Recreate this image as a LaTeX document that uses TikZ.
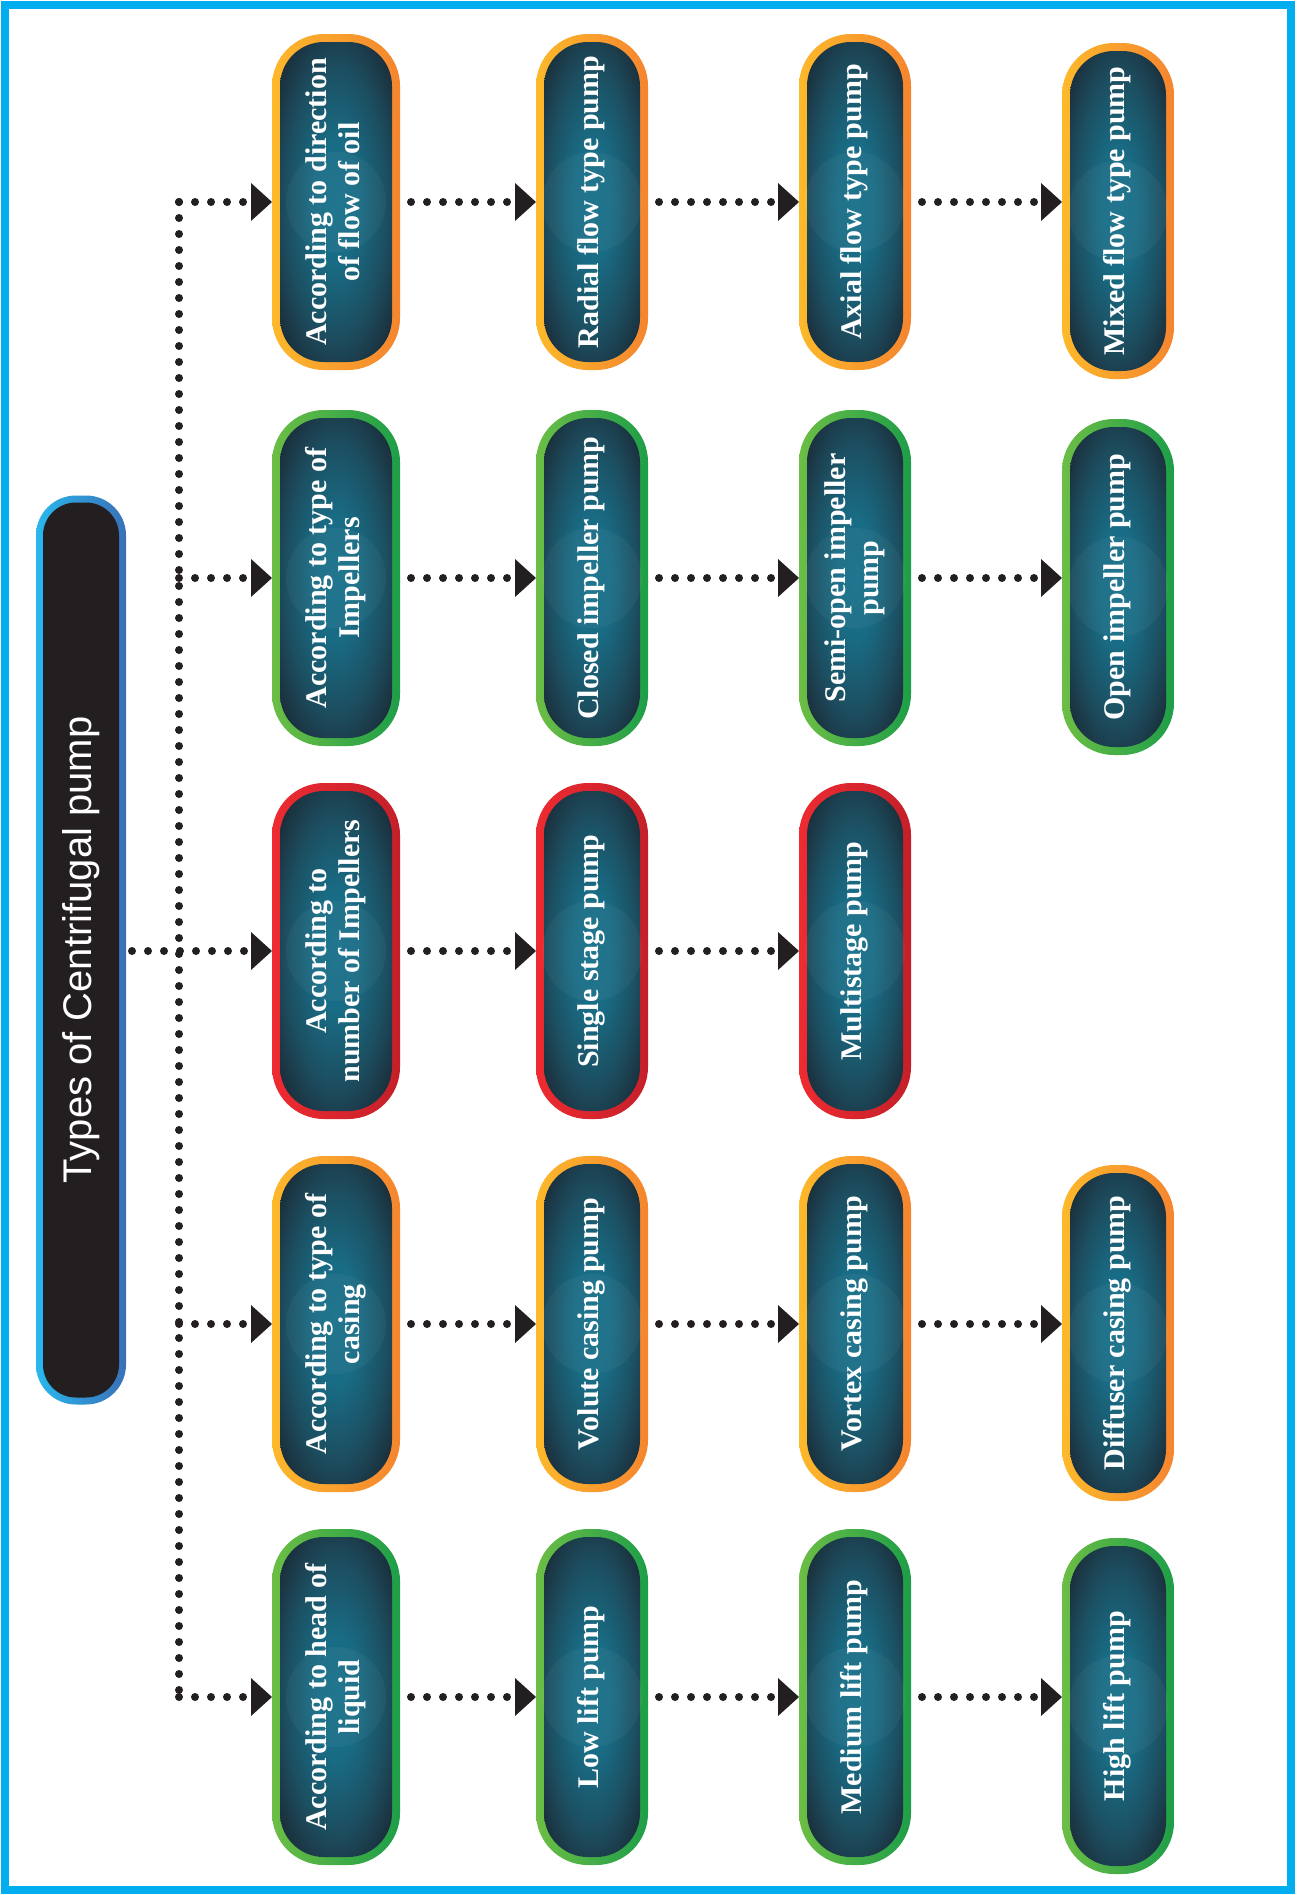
\documentclass[tikz,border=0pt]{standalone}
\usepackage{fontspec}
\setmainfont{Liberation Serif}
\newfontfamily\titlefont{Liberation Sans}
\usepackage{graphicx}
\usepackage{xcolor}
\usepackage{tikz}
\usetikzlibrary{arrows.meta}

\definecolor{frameCyan}{HTML}{00AEEF}
\definecolor{orgL}{HTML}{FDB92B}
\definecolor{orgR}{HTML}{F5852F}
\definecolor{grnL}{HTML}{6CBE45}
\definecolor{grnR}{HTML}{1E9E48}
\definecolor{redL}{HTML}{EE2B31}
\definecolor{redR}{HTML}{C4202A}
\definecolor{ttlL}{HTML}{29B8EE}
\definecolor{ttlR}{HTML}{3A70B7}
\definecolor{coreDark}{HTML}{1B2A36}
\definecolor{coreMid}{HTML}{1C4E60}
\definecolor{coreTeal}{HTML}{18718B}
\definecolor{ink}{HTML}{231F20}

% teal glow in the middle of each pill
\pgfdeclareradialshading{pillglow}{\pgfpoint{0bp}{0bp}}{%
    color(0bp)=(coreTeal); color(9bp)=(coreTeal!85!coreMid);
    color(20bp)=(coreMid); color(30bp)=(coreDark); color(50bp)=(coreDark)}

\newcommand{\vlabel}[1]{\rotatebox{90}{\begin{tabular}{@{}c@{}}#1\end{tabular}}}

\begin{document}
\begin{tikzpicture}[x=1pt, y=-1pt,
    pill/.style={rounded corners=52pt, inner sep=0pt, outer sep=0pt,
        minimum width=112pt, minimum height=336pt, text=white,
        font=\bfseries\fontsize{30}{33}\selectfont,
        path picture={\shade[shading=pillglow, rounded corners=44pt]
            ([shift={(8,8)}]path picture bounding box.north west) rectangle
            ([shift={(-8,-8)}]path picture bounding box.south east);
            \fill[white, opacity=0.04] (path picture bounding box.center) circle (50pt);}},
    wide/.style={minimum width=128pt},
    orangepill/.style={pill, left color=orgL, right color=orgR},
    greenpill/.style={pill, left color=grnL, right color=grnR},
    redpill/.style={pill, left color=redL, right color=redR},
    titlepill/.style={rounded corners=40pt, inner sep=0pt, outer sep=0pt,
        minimum width=90pt, minimum height=909pt, text=white,
        left color=ttlL, right color=ttlR,
        font=\titlefont\fontsize{40}{44}\selectfont,
        path picture={\fill[ink, rounded corners=33pt]
            ([shift={(7,7)}]path picture bounding box.north west) rectangle
            ([shift={(-7,-7)}]path picture bounding box.south east);}},
    dots/.style={draw=ink, line width=8pt, line cap=round, dash pattern=on 0pt off 16pt},
    link/.style={dots, -{Triangle[length=21pt, width=38pt, line width=0pt]}},
]

% page and frame
\fill[white] (0,0) rectangle (1296,1895);
\useasboundingbox (0,0) rectangle (1296,1895);
\draw[frameCyan, line width=8pt] (5,5) rectangle (1291,1890);

% Root
\node[titlepill] (title) at (81,950) {\rotatebox{90}{Types of Centrifugal pump}};

% Level 1 - classification
\node[orangepill, wide] (a1) at (336,202) {\vlabel{According to direction\\of flow of oil}};
\node[greenpill, wide] (b1) at (336,578) {\vlabel{According to type of\\Impellers}};
\node[redpill, wide] (c1) at (336,951) {\vlabel{According to\\number of Impellers}};
\node[orangepill, wide] (d1) at (336,1324) {\vlabel{According to type of\\casing}};
\node[greenpill, wide] (e1) at (336,1697) {\vlabel{According to head of\\liquid}};

% Level 2
\node[orangepill] (a2) at (592,202) {\vlabel{Radial flow type pump}};
\node[greenpill] (b2) at (592,578) {\vlabel{Closed impeller pump}};
\node[redpill] (c2) at (592,951) {\vlabel{Single stage pump}};
\node[orangepill] (d2) at (592,1324) {\vlabel{Volute casing pump}};
\node[greenpill] (e2) at (592,1697) {\vlabel{Low lift pump}};

% Level 3
\node[orangepill] (a3) at (855,202) {\vlabel{Axial flow type pump}};
\node[greenpill] (b3) at (855,578) {\vlabel{Semi-open impeller\\pump}};
\node[redpill] (c3) at (855,951) {\vlabel{Multistage pump}};
\node[orangepill] (d3) at (855,1324) {\vlabel{Vortex casing pump}};
\node[greenpill] (e3) at (855,1697) {\vlabel{Medium lift pump}};

% Level 4
\node[orangepill] (a4) at (1118,211) {\vlabel{Mixed flow type pump}};
\node[greenpill] (b4) at (1118,587) {\vlabel{Open impeller pump}};
\node[orangepill] (d4) at (1118,1333) {\vlabel{Diffuser casing pump}};
\node[greenpill] (e4) at (1118,1706) {\vlabel{High lift pump}};

% Trunk from root
\coordinate (trunk) at (179,0);
\draw[dots] (trunk |- a1.west) -- (trunk |- e1.west);
\draw[link, shorten <=6pt] (title.east |- c1.west) -- (c1.west);
\foreach \n in {a1,b1,d1,e1}
    \draw[link] (trunk |- \n.west) -- (\n.west);

% Rows
\foreach \r in {a,b,c,d,e}
    \draw[link, shorten <=11pt] (\r1.east) -- (\r2.west);
\foreach \r in {a,b,c,d,e}
    \draw[link, shorten <=11pt] (\r2.east) -- (\r3.west);
\foreach \r in {a,b,d,e}
    \draw[link, shorten <=11pt] (\r3.east) -- (\r3.east -| \r4.west);

\end{tikzpicture}
\end{document}
